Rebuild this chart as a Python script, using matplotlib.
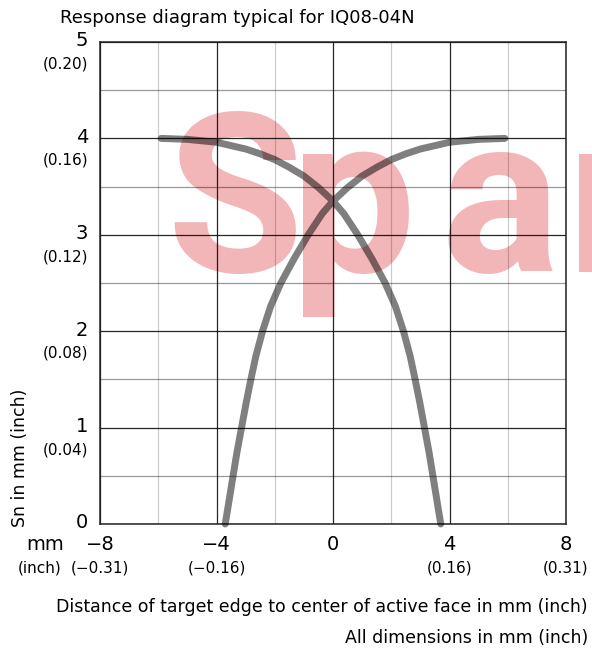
import numpy as np
import matplotlib.pyplot as plt

# response curves (mm)
falling_x = [-5.9, -5.0, -4.0, -3.0, -2.5, -2.0, -1.5, -1.0, -0.5, 0.0, 0.37, 0.85, 1.34, 1.79,
             2.14, 2.42, 2.65, 2.82, 2.98, 3.14, 3.30, 3.43, 3.57, 3.70]
falling_y = [4.0, 3.99, 3.96, 3.89, 3.84, 3.78, 3.70, 3.61, 3.49, 3.35, 3.22, 3.0, 2.75, 2.5,
             2.26, 2.0, 1.74, 1.5, 1.26, 1.0, 0.74, 0.5, 0.24, 0.0]
rising_x = [-3.70, -3.57, -3.43, -3.30, -3.14, -2.98, -2.82, -2.65, -2.42, -2.14, -1.79,
            -1.34, -0.85, -0.37, 0.0, 0.5, 1.0, 1.5, 2.0, 2.5, 3.0, 4.0, 5.0, 5.9]
rising_y = [0.0, 0.24, 0.5, 0.74, 1.0, 1.26, 1.5, 1.74, 2.0, 2.26, 2.5,
            2.75, 3.0, 3.22, 3.35, 3.49, 3.61, 3.70, 3.78, 3.84, 3.89, 3.96, 3.99, 4.0]

x_ticks = [-8, -4, 0, 4, 8]
x_minor = [-6, -2, 2, 6]
x_tick_labels = ['\u22128', '\u22124', '0', '4', '8']
x_inch_labels = ['(\u22120.31)', '(\u22120.16)', '', '(0.16)', '(0.31)']
y_ticks = [0, 1, 2, 3, 4, 5]
y_minor = [0.5, 1.5, 2.5, 3.5, 4.5]
y_tick_labels = ['0', '1', '2', '3', '4', '5']
y_inch_labels = ['', '(0.04)', '(0.08)', '(0.12)', '(0.16)', '(0.20)']

title = 'Response diagram typical for IQ08-04N'
x_label = 'Distance of target edge to center of active face in mm (inch)'
y_label = 'Sn in mm (inch)'
note = 'All dimensions in mm (inch)'
watermark_letters = ['S', 'p', 'a', 'r']
watermark_left = [166, 291, 440, 567]  # pixel positions of each letter

plt.rcParams['font.family'] = ['DejaVu Sans']
W, H = 592, 652

fig = plt.figure(figsize=(W / 100, H / 100), dpi=100)
ax = fig.add_axes([100 / W, 1 - 524 / H, 466 / W, 482 / H])
ax.set_facecolor('none')
ax.set_xlim(-8, 8)
ax.set_ylim(0, 5)

# watermark behind the grid
for ch, px in zip(watermark_letters, watermark_left):
    fig.text(px / W, 1 - 272 / H, ch, fontsize=160, fontweight='bold', family='Roboto',
             color='#f2b6b8', va='baseline', ha='left', zorder=-1)

ax.set_xticks(x_ticks)
ax.set_xticks(x_minor, minor=True)
ax.set_yticks(y_ticks)
ax.set_yticks(y_minor, minor=True)
ax.tick_params(which='both', length=0, labelbottom=False, labelleft=False)
ax.xaxis.grid(True, which='major', color='black', alpha=0.85, lw=0.9)
ax.yaxis.grid(True, which='major', color='black', alpha=0.85, lw=0.9)
ax.xaxis.grid(True, which='minor', color='black', alpha=0.2, lw=0.9)
ax.yaxis.grid(True, which='minor', color='black', alpha=0.4, lw=0.9)
for s in ax.spines.values():
    s.set_color('#222222')
    s.set_linewidth(1.1)

cx = falling_x + [np.nan] + rising_x
cy = falling_y + [np.nan] + rising_y
ax.plot(cx, cy, color='black', alpha=0.5, lw=5, solid_capstyle='round',
        solid_joinstyle='round', clip_on=False, zorder=3)

bx = ax.get_xaxis_transform()
by = ax.get_yaxis_transform()
for xv, lab, inch in zip(x_ticks, x_tick_labels, x_inch_labels):
    ax.text(xv, -21 / 482, lab, transform=bx, ha='center', va='center', fontsize=14)
    if inch:
        ax.text(xv, -44 / 482, inch, transform=bx, ha='center', va='center', fontsize=11)
for yv, lab, inch in zip(y_ticks, y_tick_labels, y_inch_labels):
    ax.text(-12 / 466, yv + 1 / 96.4, lab, transform=by, ha='right', va='center', fontsize=14)
    if inch:
        ax.text(-12 / 466, yv - 22 / 96.4, inch, transform=by, ha='right', va='center', fontsize=11)

fig.text(45 / W, 1 - 545 / H, 'mm', ha='center', va='center', fontsize=14)
fig.text(40 / W, 1 - 568 / H, '(inch)', ha='center', va='center', fontsize=11)
fig.text(60 / W, 1 - 18 / H, title, ha='left', va='center', fontsize=13)
fig.text(20 / W, 1 - 458 / H, y_label, rotation=90, ha='center', va='center', fontsize=12.5)
fig.text(588 / W, 1 - 607 / H, x_label, ha='right', va='center', fontsize=12.5)
fig.text(588 / W, 1 - 638 / H, note, ha='right', va='center', fontsize=12.5)

fig.savefig('out.png', dpi=100)
